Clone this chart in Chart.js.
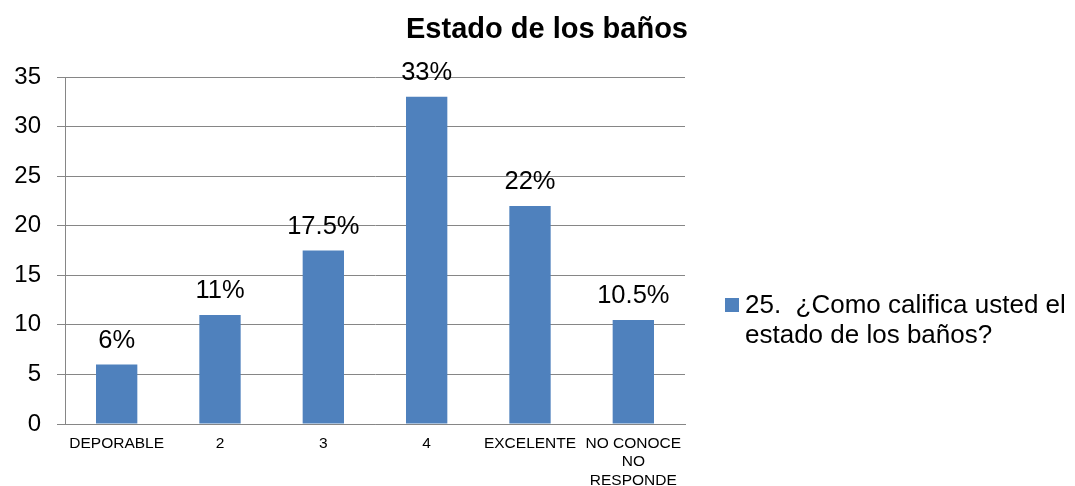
<!DOCTYPE html>
<html>
<head>
  <meta charset="utf-8" />
  <title>Estado de los baños</title>
  <script src="https://cdn.jsdelivr.net/npm/chart.js"></script>
  <style>
    body { margin: 0; background: #ffffff; }
    #chart { display: block; }
  </style>
</head>
<body>
  <canvas id="chart" width="1075" height="486"></canvas>
  <script>
    // categories and answers (percent of respondents)
    const categories = ['DEPORABLE', '2', '3', '4', 'EXCELENTE', ['NO CONOCE', 'NO', 'RESPONDE']];
    const values = [6, 11, 17.5, 33, 22, 10.5];
    const yTicks = [0, 5, 10, 15, 20, 25, 30, 35];
    const seriesName = '25.  ¿Como califica usted el estado de los baños?';
    const titleText = 'Estado de los baños';

    const barColor = '#4F81BD';
    const gridColor = '#868686';
    const fontFamily = 'Arial, "Liberation Sans", sans-serif';

    // percent labels above each bar
    const valueLabels = {
      id: 'valueLabels',
      afterDatasetsDraw(chart) {
        const ctx = chart.ctx;
        const meta = chart.getDatasetMeta(0);
        ctx.save();
        ctx.font = '25.5px ' + fontFamily;
        ctx.fillStyle = '#000';
        ctx.textAlign = 'center';
        ctx.textBaseline = 'alphabetic';
        meta.data.forEach((bar, i) => {
          ctx.fillText(values[i] + '%', bar.x, bar.y - 17);
        });
        ctx.restore();
      }
    };

    // title and the legend box on the right
    const titleAndLegend = {
      id: 'titleAndLegend',
      afterDraw(chart) {
        const ctx = chart.ctx;
        ctx.save();
        ctx.fillStyle = '#000';
        ctx.textBaseline = 'alphabetic';
        ctx.textAlign = 'center';
        ctx.font = 'bold 29px ' + fontFamily;
        ctx.fillText(titleText, 547, 38);

        ctx.fillStyle = barColor;
        ctx.fillRect(725, 298, 14, 14);
        ctx.fillStyle = '#000';
        ctx.textAlign = 'left';
        ctx.font = '26px ' + fontFamily;
        const cut = seriesName.indexOf(' estado');
        ctx.fillText(seriesName.slice(0, cut), 745, 313);
        ctx.fillText(seriesName.slice(cut + 1), 745, 343);
        ctx.restore();
      }
    };

    new Chart(document.getElementById('chart'), {
      type: 'bar',
      data: {
        labels: categories,
        datasets: [{
          label: seriesName,
          data: values,
          backgroundColor: barColor,
          categoryPercentage: 1,
          barPercentage: 0.4
        }]
      },
      options: {
        responsive: false,
        animation: false,
        layout: { padding: { top: 77, right: 390, left: 0, bottom: 0 } },
        plugins: {
          legend: { display: false },
          title: { display: false },
          tooltip: { enabled: false }
        },
        scales: {
          x: {
            grid: { display: false },
            border: { display: true, color: gridColor, width: 1 },
            ticks: {
              color: '#000',
              font: { size: 15.5, family: fontFamily, lineHeight: 1.2 },
              padding: 2,
              maxRotation: 0,
              autoSkip: false
            },
            afterFit(s) { s.height = 62; }
          },
          y: {
            min: 0,
            max: 35,
            afterBuildTicks(s) { s.ticks = yTicks.map(v => ({ value: v })); },
            grid: { color: gridColor, tickLength: 8, drawTicks: true },
            border: { display: true, color: gridColor, width: 1 },
            ticks: {
              color: '#000',
              font: { size: 24, family: fontFamily },
              padding: 16
            },
            afterFit(s) { s.width = 65; }
          }
        }
      },
      plugins: [valueLabels, titleAndLegend]
    });
  </script>
</body>
</html>
